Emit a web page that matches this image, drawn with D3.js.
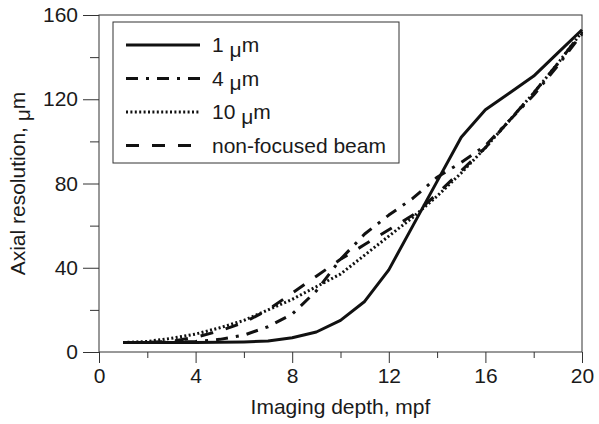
<!DOCTYPE html>
<meta charset="utf-8">

<head>
  <style>
    body { margin: 0; background: #fff; }
    text { font-family: "Liberation Sans", Arial, sans-serif; fill: #1a1a1a; }
    .axis path { display: none; }
    .axis line { stroke: #333; stroke-width: 1; }
  </style>
</head>

<body>
  <script src="https://d3js.org/d3.v7.min.js"></script>

  <script>
    // imaging depth (mpf)
    var depth = [1, 2, 3, 4, 5, 6, 7, 8, 9, 10, 11, 12, 13, 14, 15, 16, 17, 18, 19, 20];

    // axial resolution (um) per focal spot
    var res1um = [4.5, 4.5, 4.5, 4.5, 4.6, 4.8, 5.2, 6.8, 9.5, 15, 24, 39, 60, 81, 102, 115, 123, 131, 142, 153];
    var res4um = [4.5, 4.5, 4.6, 5, 6, 8, 12, 18, 29, 44, 56, 65, 73, 83, 90, 98, 110, 122, 136, 151];
    var res10um = [4.5, 5, 6.5, 8.5, 11.5, 15, 20, 25, 31, 37, 46, 55, 64, 74, 85, 97, 110, 123, 137, 152];
    var resNonFocused = [4.5, 4.6, 5, 7, 10, 14, 20, 28, 36, 44, 51, 58, 65, 75, 86, 97, 110, 123, 137, 152];

    var seriesNames = ["1", "4", "10", "non-focused beam"];

    var xMajor = [0, 4, 8, 12, 16, 20];
    var xMinor = [2, 6, 10, 14, 18];
    var yMajor = [0, 40, 80, 120, 160];
    var yMinor = [20, 60, 100, 140];

    var W = 599, H = 424;
    var margin = { top: 15, right: 17, bottom: 72, left: 99 };
    var width = W - margin.left - margin.right,
      height = H - margin.top - margin.bottom;

    var svg = d3.select("body").append("svg")
      .attr("width", W)
      .attr("height", H)
      .append("g")
      .attr("transform", "translate(" + margin.left + "," + margin.top + ")");

    var x = d3.scaleLinear().domain([0, 20]).range([0, width]);
    var y = d3.scaleLinear().domain([0, 160]).range([height, 0]);

    var fontSize = 21;

    // minor ticks first, then major ticks with labels
    svg.append("g").attr("class", "axis")
      .attr("transform", "translate(0," + height + ")")
      .call(d3.axisBottom(x).tickValues(xMinor).tickSize(6).tickFormat(""));
    svg.append("g").attr("class", "axis")
      .attr("transform", "translate(0," + height + ")")
      .call(d3.axisBottom(x).tickValues(xMajor).tickSize(11).tickPadding(5).tickFormat(d3.format("d")))
      .selectAll("text").style("font-size", fontSize + "px").attr("fill", "#1a1a1a");

    svg.append("g").attr("class", "axis")
      .call(d3.axisLeft(y).tickValues(yMinor).tickSize(9).tickFormat(""));
    svg.append("g").attr("class", "axis")
      .call(d3.axisLeft(y).tickValues(yMajor).tickSize(16).tickPadding(5).tickFormat(d3.format("d")))
      .selectAll("text").style("font-size", fontSize + "px").attr("fill", "#1a1a1a");

    // frame
    svg.append("rect")
      .attr("width", width).attr("height", height)
      .attr("fill", "none").attr("stroke", "#333").attr("stroke-width", 1);

    // axis titles
    svg.append("text")
      .attr("x", width / 2)
      .attr("y", height + 62)
      .attr("text-anchor", "middle")
      .style("font-size", fontSize + "px")
      .text("Imaging depth, mpf");

    var yl = svg.append("text")
      .attr("transform", "translate(" + (-74) + "," + (height / 2) + ") rotate(-90)")
      .attr("text-anchor", "middle")
      .style("font-size", fontSize + "px");
    yl.append("tspan").text("Axial resolution, ");
    yl.append("tspan").attr("dy", "0.22em").text("\u03bc");
    yl.append("tspan").attr("dy", "-0.22em").text("m");

    var styles = [
      { data: res1um, dash: null },
      { data: res4um, dash: "12,8,3,8" },
      { data: res10um, dash: "2,2.4" },
      { data: resNonFocused, dash: "13,13" }
    ];

    var line = d3.line()
      .x(function (d, i) { return x(depth[i]); })
      .y(function (d) { return y(d); });

    svg.selectAll(".series")
      .data(styles.slice().reverse())
      .enter().append("path")
      .attr("class", "series")
      .attr("d", function (s) { return line(s.data); })
      .attr("fill", "none")
      .attr("stroke", "#111")
      .attr("stroke-width", 3)
      .attr("stroke-linejoin", "round")
      .attr("stroke-dasharray", function (s) { return s.dash; });

    // legend
    var legend = svg.append("g").attr("transform", "translate(14,7)");
    legend.append("rect")
      .attr("width", 286).attr("height", 141)
      .attr("fill", "#fff").attr("stroke", "#333").attr("stroke-width", 1);

    var rows = legend.selectAll(".row")
      .data(styles)
      .enter().append("g")
      .attr("class", "row")
      .attr("transform", function (d, i) { return "translate(0," + (30 + i * 33.5) + ")"; });

    rows.append("line")
      .attr("x1", 13).attr("x2", 87)
      .attr("y1", -7).attr("y2", -7)
      .attr("stroke", "#111").attr("stroke-width", 3)
      .attr("stroke-dasharray", function (s) { return s.dash; });

    rows.append("text")
      .attr("x", 99)
      .style("font-size", fontSize + "px")
      .each(function (s, i) {
        var t = d3.select(this);
        if (i < 3) {
          t.append("tspan").text(seriesNames[i] + " ");
          t.append("tspan").attr("dy", "0.22em").text("\u03bc");
          t.append("tspan").attr("dy", "-0.22em").text("m");
        } else {
          t.text(seriesNames[i]);
        }
      });
  </script>
</body>
